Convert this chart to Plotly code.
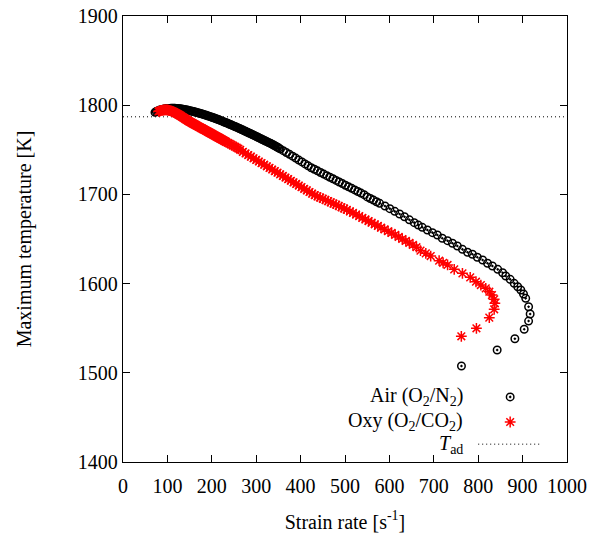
import plotly.graph_objects as go

# ---------------- data ----------------
air_strain = [72, 78, 84, 90, 96, 102, 108, 114, 120, 126, 132, 138, 144, 150, 156, 162, 168, 174, 180, 186,
              192, 198, 204, 210, 216, 222, 228, 234, 240, 246, 252, 258, 264, 270, 276, 282, 288, 294, 300, 306,
              312, 318, 324, 330, 336, 342, 348, 354, 361, 368, 375, 382, 389, 396, 403, 410, 417, 424, 431, 438,
              445, 452, 459, 466, 473, 480, 487, 494, 501, 508, 515, 522, 529, 536, 543, 550, 557, 564, 571, 578,
              590, 601, 612, 623, 634, 645, 656, 665, 674, 685.5, 697, 708, 719, 731, 742, 753, 764.5, 776, 787, 798,
              810, 821, 832, 844, 855, 862, 872, 881, 889, 896, 902, 907, 913.5, 917, 913.5, 903.6, 882.6, 842.7, 762.3,
              75, 81, 87, 93, 99, 105, 111, 117, 123, 129, 135, 141, 147, 153, 159, 165, 171, 177, 183, 189,
              195, 201, 207, 213, 219, 225, 231, 237, 243, 249, 255, 261, 267, 273, 279, 285, 291, 297, 303, 309,
              315, 321, 327, 333, 339, 345, 351]
air_tmax = [1792.0, 1793.6, 1794.7, 1795.5, 1796.0, 1796.3, 1796.5, 1796.5, 1796.4, 1796.1, 1795.7, 1795.2, 1794.6,
            1793.9, 1793.2, 1792.4, 1791.6, 1790.7, 1789.8, 1788.9, 1787.9, 1786.9, 1785.8, 1784.7, 1783.6, 1782.4,
            1781.2, 1780.0, 1778.7, 1777.4, 1776.1, 1774.8, 1773.5, 1772.1, 1770.7, 1769.3, 1767.9, 1766.5, 1765.0,
            1763.5, 1762.0, 1760.6, 1759.1, 1757.7, 1756.2, 1754.6, 1752.8, 1751.0, 1749.0, 1746.9, 1744.9, 1742.9,
            1740.7, 1738.5, 1736.4, 1734.2, 1732.0, 1729.9, 1728.2, 1726.4, 1724.6, 1722.8, 1721.0, 1719.2, 1717.5,
            1715.7, 1713.9, 1712.1, 1710.3, 1708.5, 1706.8, 1705.0, 1703.3, 1701.5, 1699.7, 1697.2, 1695.4, 1693.6,
            1691.8, 1690.0, 1687.0, 1684.0, 1681.0, 1678.0, 1675.0, 1671.5, 1668.3, 1665.6, 1663.1, 1660.1, 1657.1,
            1654.5, 1650.8, 1648.1, 1645.2, 1642.2, 1638.4, 1635.1, 1632.9, 1629.5, 1626.5, 1622.8, 1619.7, 1616.0,
            1612.2, 1608.5, 1604.8, 1600.3, 1596.5, 1592.8, 1588.3, 1583.5, 1574.1, 1565.9, 1558.0, 1548.8, 1538.2,
            1525.6, 1507.6,
            1792.9, 1794.2, 1795.1, 1795.8, 1796.2, 1796.4, 1796.5, 1796.5, 1796.3, 1795.9, 1795.5, 1794.9, 1794.3,
            1793.6, 1792.8, 1792.0, 1791.2, 1790.3, 1789.4, 1788.4, 1787.4, 1786.4, 1785.3, 1784.2, 1783.0, 1781.8,
            1780.6, 1779.4, 1778.1, 1776.8, 1775.5, 1774.2, 1772.8, 1771.4, 1770.0, 1768.6, 1767.2, 1765.8, 1764.3,
            1762.8, 1761.3, 1759.9, 1758.4, 1757.0, 1755.4, 1753.7, 1751.9]

oxy_strain = [80, 84, 88, 92, 96, 100, 104, 108, 112, 116, 120, 124, 128, 132, 136, 140, 144, 148, 152, 156,
              160, 164, 168, 172, 176, 180, 184, 188, 192, 196, 200, 204, 208, 212, 216, 220, 224, 228, 232, 236,
              240, 244, 248, 252, 256, 260, 264, 270, 276, 282, 288, 294, 300, 306, 312, 318, 324, 330, 336, 342,
              348, 354, 360, 366, 372, 378, 384, 390, 396, 402, 408, 414, 420, 426, 432, 438, 444, 450, 456, 462,
              468, 474, 480, 486, 492, 498, 504, 511, 518, 525, 532, 539, 546, 553, 560, 567, 574, 581, 589, 597,
              605, 613, 621, 629, 637, 645, 653, 661, 670, 682, 693, 712, 721, 731, 746, 764.5, 782, 795, 806, 817,
              825, 831, 836, 837.5, 836, 825, 796, 762,
              82, 86, 90, 94, 98, 102, 106, 110, 114, 118, 122, 126, 130, 134, 138, 142, 146, 150, 154, 158,
              162, 166, 170, 174, 178, 182, 186, 190, 194, 198, 202, 206, 210, 214, 218, 222, 226, 230]
oxy_tmax = [1793.0, 1793.8, 1794.3, 1794.6, 1794.7, 1794.6, 1794.2, 1793.6, 1792.8, 1791.9, 1790.9, 1789.8, 1788.6,
            1787.3, 1786.0, 1784.7, 1783.4, 1782.2, 1781.1, 1779.9, 1778.8, 1777.7, 1776.6, 1775.5, 1774.4, 1773.3,
            1772.2, 1771.1, 1770.0, 1768.9, 1767.8, 1766.7, 1765.6, 1764.5, 1763.4, 1762.3, 1761.2, 1760.1, 1759.0,
            1757.9, 1756.8, 1755.7, 1754.6, 1753.5, 1752.4, 1751.2, 1750.0, 1747.7, 1745.9, 1744.1, 1742.3, 1740.5,
            1738.7, 1736.9, 1735.1, 1733.3, 1731.5, 1729.7, 1727.9, 1726.1, 1724.3, 1722.5, 1720.7, 1718.9, 1717.1,
            1715.3, 1713.5, 1711.7, 1709.9, 1708.1, 1706.3, 1704.5, 1702.7, 1700.9, 1699.1, 1697.8, 1696.5, 1695.1,
            1693.8, 1692.5, 1691.1, 1689.7, 1688.4, 1687.0, 1685.6, 1684.2, 1682.8, 1681.0, 1679.2, 1677.4, 1675.6,
            1673.7, 1671.9, 1670.1, 1668.3, 1666.5, 1664.6, 1662.8, 1660.7, 1658.7, 1656.8, 1654.6, 1652.3, 1650.0,
            1647.8, 1645.6, 1643.3, 1640.8, 1637.0, 1633.9, 1630.9, 1625.7, 1623.3, 1620.9, 1616.0, 1611.5, 1607.0,
            1602.1, 1598.4, 1594.7, 1590.9, 1587.2, 1582.4, 1577.9, 1571.2, 1561.8, 1549.9, 1540.9,
            1793.4, 1794.1, 1794.5, 1794.7, 1794.7, 1794.4, 1793.9, 1793.2, 1792.4, 1791.4, 1790.4, 1789.2, 1788.0,
            1786.7, 1785.4, 1784.1, 1782.8, 1781.6, 1780.5, 1779.4, 1778.3, 1777.2, 1776.1, 1775.0, 1773.9, 1772.8,
            1771.7, 1770.6, 1769.5, 1768.4, 1767.3, 1766.2, 1765.1, 1764.0, 1762.9, 1761.8, 1760.7, 1759.6]

t_ad = 1787.0
x_range = [0, 1000]
y_range = [1400, 1900]
x_ticks = [0, 100, 200, 300, 400, 500, 600, 700, 800, 900, 1000]
y_ticks = [1400, 1500, 1600, 1700, 1800, 1900]

names = ["Air (O<sub>2</sub>/N<sub>2</sub>)", "Oxy (O<sub>2</sub>/CO<sub>2</sub>)", "<i>T</i><sub>ad</sub>"]
x_title = "Strain rate [s<sup>-1</sup>]"
y_title = "Maximum temperature [K]"

FONT = "Liberation Serif"
FS = 20

air_marker = dict(symbol="circle-open-dot", size=7.5, color="black", line=dict(color="black", width=1.5))
oxy_marker = dict(symbol="asterisk-open", size=9, color="red", line=dict(color="red", width=1.5))
dot_line = dict(color="black", width=1, dash="1px,3px")

fig = go.Figure()
fig.add_trace(go.Scatter(x=x_range, y=[t_ad, t_ad], mode="lines", line=dot_line, showlegend=False))
fig.add_trace(go.Scatter(x=air_strain, y=air_tmax, mode="markers", marker=air_marker, showlegend=False))
fig.add_trace(go.Scatter(x=oxy_strain, y=oxy_tmax, mode="markers", marker=oxy_marker, showlegend=False))

# ---- gnuplot-style legend (text on the left, key on the right) ----
leg_rows = [0.146, 0.0897, 0.040]
leg_text_x = 0.771
leg_key_x = 0.872
fig.add_trace(go.Scatter(x=[leg_key_x], y=[leg_rows[0]], xaxis="x2", yaxis="y2", mode="markers",
                         marker=air_marker, showlegend=False, hoverinfo="skip"))
fig.add_trace(go.Scatter(x=[leg_key_x], y=[leg_rows[1]], xaxis="x2", yaxis="y2", mode="markers",
                         marker=oxy_marker, showlegend=False, hoverinfo="skip"))
fig.add_shape(type="line", xref="paper", yref="paper", x0=0.80, x1=0.94, y0=leg_rows[2], y1=leg_rows[2],
              line=dot_line)
for name, yy in zip(names, leg_rows):
    fig.add_annotation(text=name, xref="paper", yref="paper", x=leg_text_x, y=yy, xanchor="right",
                       yanchor="middle", showarrow=False, font=dict(family=FONT, size=FS, color="black"))

axis_common = dict(showline=True, linecolor="black", linewidth=1.3, mirror="ticks", ticks="inside",
                   ticklen=7, tickwidth=1.3, tickcolor="black", showgrid=False, zeroline=False,
                   automargin=False, tickfont=dict(family=FONT, size=FS, color="black"))
fig.update_layout(
    width=594, height=535,
    margin=dict(l=123, r=27, t=16, b=73),
    paper_bgcolor="white", plot_bgcolor="white",
    font=dict(family=FONT, color="black"),
    xaxis=dict(range=x_range, tickvals=x_ticks, ticklabelstandoff=6,
               title=dict(text=x_title, font=dict(family=FONT, size=FS, color="black"), standoff=18),
               **axis_common),
    yaxis=dict(range=y_range, tickvals=y_ticks,
               title=dict(text=y_title, font=dict(family=FONT, size=FS, color="black"), standoff=40),
               **axis_common),
    xaxis2=dict(range=[0, 1], overlaying="x", visible=False, fixedrange=True),
    yaxis2=dict(range=[0, 1], overlaying="y", visible=False, fixedrange=True),
    showlegend=False,
)
fig.write_html("out.html")
